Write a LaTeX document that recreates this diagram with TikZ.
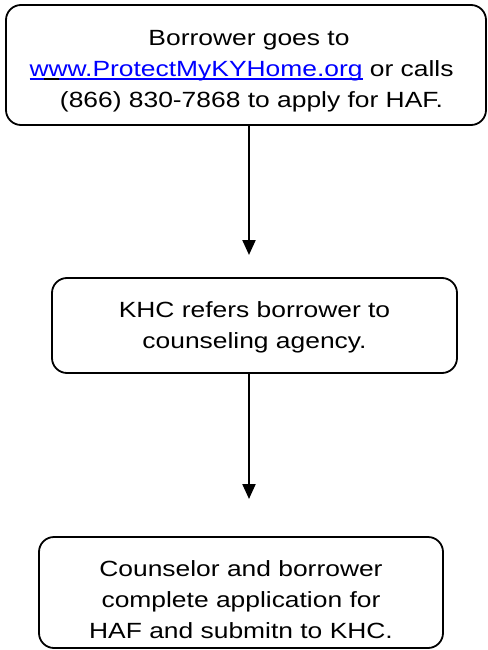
\documentclass[tikz,border=0pt]{standalone}
\usepackage{fontspec}
\setmainfont{Liberation Sans}[FakeStretch=1.2]
\usetikzlibrary{arrows.meta}
\definecolor{linkblue}{RGB}{0,0,255}
\newcommand\linku[1]{\leavevmode\setbox0\hbox{#1}%
  \rlap{\color{linkblue}\rule[-3.7pt]{\wd0}{1.4pt}}%
  \rlap{\hspace*{14pt}\color{black}\rule[-3.7pt]{15pt}{1.4pt}}\box0}
\newcommand\topstrut[1]{\rule{0pt}{#1}}
\newcommand\botstrut{\rule[-6pt]{0pt}{6pt}}
\tikzset{
  flowbox/.style={draw=black, line width=1.8pt, rounded corners=15pt, inner sep=0pt,
    align=center, font=\fontsize{22}{31}\selectfont},
  flowarrow/.style={line width=2.2pt, -{Triangle[width=13pt,length=15pt]}}
}
\begin{document}
\begin{tikzpicture}[x=1pt,y=1pt]
\useasboundingbox (0,0) rectangle (487,-650);
\node[flowbox, minimum width=480pt, minimum height=120pt] (box1) at (246,-65)
  {\topstrut{28pt}\hspace*{6pt}Borrower goes to\\
   {\color{linkblue}\linku{www.ProtectMyKYHome.org}} or calls\hspace*{9pt}\mbox{}\\
   \hspace*{11pt}(866) 830-7868 to apply for HAF.\botstrut};
\node[flowbox, minimum width=405pt, minimum height=95pt] (box2) at (254.5,-325.5)
  {\topstrut{20pt}KHC refers borrower to\\counseling agency.\botstrut};
\node[flowbox, minimum width=404pt, minimum height=111pt] (box3) at (241,-592.5)
  {\topstrut{35pt}Counselor and borrower\\complete application for\\HAF and submitn to KHC.\botstrut};
\coordinate (tip1) at (249,-255);
\coordinate (tip2) at (249,-499);
\draw[flowarrow] (box1.south -| tip1) -- (tip1);
\draw[flowarrow] (box2.south -| tip2) -- (tip2);
\end{tikzpicture}
\end{document}
